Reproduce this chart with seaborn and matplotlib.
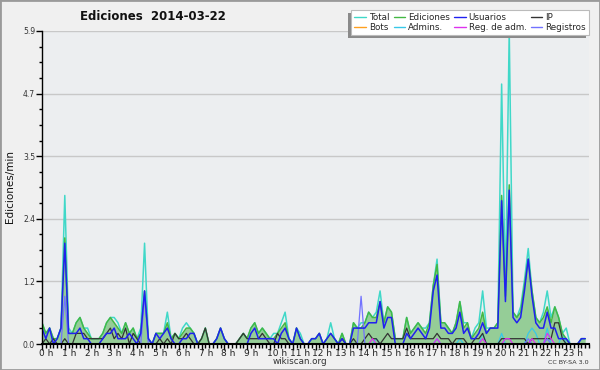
import matplotlib
matplotlib.use("Agg")
import matplotlib.pyplot as plt
import matplotlib.transforms as mtransforms
from matplotlib.patches import Rectangle
from matplotlib.lines import Line2D
from matplotlib.ticker import FixedLocator, MultipleLocator
import seaborn as sns
import pandas as pd

# ---------------- data (edits per minute, 10-minute buckets) ----------------
total = [
    .4, .2, .3, .1, .1, .3, 2.8, .3, .2, .4, .5, .3,
    .3, .1, .1, .1, .2, .4, .5, .5, .4, .2, .4, .2,
    .3, .1, .3, 1.9, .1, 0, .2, .2, .2, .6, .1, .2,
    .1, .3, .4, .3, .2, 0, .1, .3, 0, 0, .1, .3,
    .1, 0, 0, 0, .1, .2, .1, .3, .4, .2, .3, .2,
    .1, .2, .2, .4, .6, .1, 0, .3, .2, 0, 0, .1,
    .1, .2, 0, .1, .4, .1, 0, .2, 0, 0, .4, .3,
    .4, .4, .6, .5, .6, 1.0, .4, .7, .6, .1, .1, .1,
    .5, .2, .3, .4, .3, .3, .4, 1.1, 1.6, .4, .4, .3,
    .2, .4, .8, .4, .4, .1, .3, .4, 1.0, .3, .3, .3,
    .4, 4.9, 1.0, 5.9, .6, .5, .7, 1.2, 1.8, 1.0, .5, .4,
    .6, 1.0, .5, .7, .5, .2, .3, 0, 0, 0, .1, .1,
]
ediciones = [
    .4, .2, .3, .1, .1, .3, 2.0, .2, .2, .4, .5, .3,
    .2, .1, .1, .1, .2, .4, .5, .4, .3, .2, .4, .2,
    .3, .1, .2, 1.0, .1, 0, .2, .2, .2, .4, .1, .2,
    .1, .2, .3, .3, .2, 0, .1, .3, 0, 0, .1, .3,
    .1, 0, 0, 0, .1, .2, .1, .3, .4, .2, .3, .2,
    .1, .1, .2, .3, .4, .1, 0, .3, .1, 0, 0, .1,
    .1, .2, 0, .1, .2, .1, 0, .2, 0, 0, .4, .3,
    .3, .4, .6, .5, .5, .8, .4, .7, .6, .1, .1, .1,
    .5, .2, .3, .4, .3, .2, .4, 1.1, 1.5, .4, .4, .3,
    .2, .4, .8, .3, .4, .1, .2, .3, .6, .2, .3, .3,
    .4, 2.8, .9, 3.0, .6, .5, .6, 1.1, 1.6, 1.0, .5, .4,
    .5, .7, .4, .7, .5, .2, .1, 0, 0, 0, .1, .1,
]
usuarios = [
    .3, .1, .3, 0, .1, .3, 1.9, .2, .2, .2, .3, .1,
    .1, 0, 0, 0, .1, .2, .2, .3, .1, .1, .1, .2,
    .1, 0, .2, 1.0, .1, 0, .2, .1, .2, .3, .1, 0,
    0, .1, .1, .2, .2, 0, 0, 0, 0, 0, .1, .3,
    .1, 0, 0, 0, 0, 0, 0, .2, .3, .1, .1, .1,
    .1, .1, 0, .2, .3, .1, 0, .3, .1, 0, 0, .1,
    .1, .2, 0, .1, .2, .1, 0, .1, 0, 0, .3, .3,
    .3, .3, .4, .4, .4, .8, .3, .5, .5, 0, 0, 0,
    .2, .1, .2, .3, .2, .1, .3, 1.0, 1.3, .3, .3, .2,
    .2, .3, .6, .2, .3, .1, .1, .2, .4, .2, .3, .3,
    .3, 2.7, .8, 2.9, .5, .4, .5, 1.0, 1.6, .9, .4, .3,
    .3, .6, .3, .3, .1, .1, .1, 0, 0, 0, .1, .1,
]
ip = [
    0, .1, 0, .1, 0, 0, .1, 0, 0, .2, .2, .2,
    .1, .1, .1, .1, .1, .2, .3, .1, .2, .1, .3, 0,
    .2, .1, 0, 0, 0, 0, 0, .1, 0, .1, 0, .2,
    .1, .1, .2, .1, 0, 0, .1, .3, 0, 0, 0, 0,
    0, 0, 0, 0, .1, .2, .1, .1, .1, .1, .2, .1,
    0, 0, .2, .1, .1, 0, 0, 0, 0, 0, 0, 0,
    0, 0, 0, 0, 0, 0, 0, .1, 0, 0, .1, 0,
    0, .1, .2, .1, .1, 0, .1, .2, .1, .1, .1, .1,
    .3, .1, .1, .1, .1, .1, .1, .1, .2, .1, .1, .1,
    0, .1, .1, .1, 0, 0, .1, .1, .2, 0, 0, 0,
    0, .1, .1, .1, .1, .1, .1, .1, 0, .1, .1, .1,
    .1, .1, .1, .4, .4, .1, 0, 0, 0, 0, 0, 0,
]
bots = [
    0, 0, 0, 0, 0, 0, 0, 0, 0, 0, 0, 0,
    0, 0, 0, 0, 0, 0, 0, 0, 0, 0, 0, 0,
    0, 0, 0, 0, 0, 0, 0, 0, 0, 0, 0, 0,
    0, 0, 0, 0, 0, 0, 0, 0, 0, 0, 0, 0,
    0, 0, 0, 0, 0, 0, 0, 0, 0, 0, 0, 0,
    0, 0, 0, 0, 0, 0, 0, 0, 0, 0, 0, 0,
    0, 0, 0, 0, 0, 0, 0, 0, 0, 0, 0, 0,
    0, 0, 0, 0, 0, 0, 0, 0, 0, 0, 0, 0,
    0, 0, 0, 0, 0, 0, 0, 0, 0, 0, 0, 0,
    0, 0, 0, 0, 0, 0, 0, 0, 0, 0, 0, 0,
    0, 0, 0, 0, 0, 0, 0, 0, 0, 0, 0, 0,
    0, 0, 0, 0, 0, 0, 0, 0, 0, 0, 0, 0,
]
admins = [
    0, 0, 0, 0, 0, 0, 0, 0, 0, 0, 0, 0,
    0, 0, 0, 0, 0, 0, 0, 0, 0, 0, 0, 0,
    0, 0, 0, 0, 0, 0, 0, 0, 0, 0, 0, 0,
    0, 0, 0, 0, 0, 0, 0, 0, 0, 0, 0, 0,
    0, 0, 0, 0, 0, 0, 0, 0, 0, 0, 0, 0,
    0, 0, 0, 0, 0, 0, 0, 0, 0, 0, 0, 0,
    0, 0, 0, 0, 0, 0, 0, 0, 0, 0, 0, 0,
    0, 0, 0, 0, .1, 0, 0, 0, 0, 0, 0, 0,
    0, 0, 0, 0, 0, 0, 0, 0, .1, 0, 0, 0,
    0, 0, .1, 0, 0, 0, 0, 0, .2, 0, 0, 0,
    0, .2, 0, 0, 0, 0, 0, 0, .2, .3, .2, 0,
    0, .3, 0, 0, 0, .2, 0, 0, 0, 0, 0, 0,
]
reg_adm = [
    0, 0, 0, 0, 0, 0, 0, 0, 0, 0, 0, 0,
    0, 0, 0, 0, 0, 0, 0, 0, 0, 0, 0, 0,
    0, 0, 0, 0, 0, 0, 0, 0, 0, 0, 0, 0,
    0, 0, 0, 0, 0, 0, 0, 0, 0, 0, 0, 0,
    0, 0, 0, 0, 0, 0, 0, 0, 0, 0, 0, 0,
    0, 0, 0, 0, 0, 0, 0, 0, 0, 0, 0, 0,
    0, 0, 0, 0, 0, 0, 0, 0, 0, 0, 0, 0,
    0, 0, 0, .1, 0, 0, 0, 0, 0, 0, 0, 0,
    0, 0, 0, 0, 0, 0, 0, 0, .1, 0, 0, 0,
    0, 0, 0, 0, 0, 0, 0, 0, .1, 0, 0, 0,
    0, 0, .1, .1, 0, 0, 0, 0, 0, .1, 0, 0,
    0, .2, .1, 0, 0, 0, 0, 0, 0, 0, 0, 0,
]
registros = [
    0, 0, 0, 0, 0, 0, .9, 0, 0, 0, 0, 0,
    0, 0, 0, 0, 0, 0, 0, 0, 0, 0, 0, 0,
    0, 0, 0, .9, 0, 0, 0, 0, 0, 0, 0, 0,
    0, 0, 0, 0, 0, 0, 0, 0, 0, 0, 0, 0,
    0, 0, 0, 0, 0, 0, 0, 0, 0, 0, 0, 0,
    0, 0, 0, 0, 0, 0, 0, 0, 0, 0, 0, 0,
    0, 0, 0, 0, 0, 0, 0, 0, 0, 0, 0, 0,
    .9, 0, 0, 0, 0, 0, 0, 0, 0, 0, 0, 0,
    0, 0, 0, 0, 0, 0, 0, 0, 0, 0, 0, 0,
    0, 0, 0, 0, 0, 0, 0, 0, 0, 0, 0, 0,
    0, 0, 0, 0, 0, 0, 0, 0, .1, 0, 0, 0,
    0, .1, 0, 0, 0, 0, 0, 0, 0, 0, 0, 0,
]
hour_labels = [f"{h} h" for h in range(24)]
y_max = 5.9

# ---------------- build frame ----------------
df = pd.DataFrame({
    "hour": [i / 6 for i in range(len(total))],
    "Total": total, "Ediciones": ediciones, "Usuarios": usuarios, "IP": ip,
    "Bots": bots, "Admins.": admins, "Reg. de adm.": reg_adm, "Registros": registros,
})

sns.set_theme(style="white")
plt.rcParams['font.family'] = ['DejaVu Sans']

W, H = 600, 370
fig = plt.figure(figsize=(6, 3.7), dpi=100, facecolor="#f0f0f0")
ax = fig.add_axes([42 / W, 26 / H, 547 / W, 313 / H])
ax.set_facecolor("#eceef0")

colors = {
    "Total": "#40d8c8", "Ediciones": "#44b844", "Usuarios": "#2020f0",
    "IP": "#333333", "Bots": "#ffa020", "Admins.": "#38c8e8",
    "Reg. de adm.": "#dd33ee", "Registros": "#7272ff",
}
widths = {
    "Total": 1.1, "Ediciones": 1.1, "Usuarios": 1.1, "IP": 0.9, "Bots": 0.9,
    "Admins.": 0.9, "Reg. de adm.": 0.9, "Registros": 0.9,
}

ax.fill_between(df["hour"], 0, df["Ediciones"], color="#5cb85c", alpha=0.6,
                lw=0, zorder=1)
order_draw = ["Bots", "Total", "Admins.", "Ediciones", "IP", "Registros",
              "Usuarios", "Reg. de adm."]
for k, name in enumerate(order_draw):
    sns.lineplot(data=df, x="hour", y=name, ax=ax, color=colors[name],
                 lw=widths[name], zorder=2 + k * 0.01, legend=False)

# axes
ax.set_xlim(0, 24)
ax.set_ylim(0, y_max)
ax.set_xlabel("")
ax.set_ylabel("")
ax.xaxis.set_major_locator(FixedLocator(range(24)))
ax.set_xticklabels(hour_labels)
ax.xaxis.set_minor_locator(MultipleLocator(1 / 6))
yt = [y_max * k / 5 for k in range(6)]
ax.yaxis.set_major_locator(FixedLocator(yt))
ax.set_yticklabels([f"{v:.1f}" for v in yt])
ax.yaxis.set_minor_locator(MultipleLocator(y_max / 20))

ax.tick_params(axis='x', which='major', length=4, width=1, color='black',
               labelsize=6.5, pad=-0.5, labelcolor="#222222", bottom=True)
ax.tick_params(axis='x', which='minor', length=3, width=1, color='black', bottom=True)
ax.tick_params(axis='y', which='major', length=4, width=1, color='black',
               labelsize=5.5, pad=1, labelcolor="#333333", left=True)
ax.tick_params(axis='y', which='minor', length=2, width=1, color='black', left=True)
offset = mtransforms.ScaledTranslation(-3 / 100, 0, fig.dpi_scale_trans)
for lab in ax.get_xticklabels():
    lab.set_ha('left')
    lab.set_transform(lab.get_transform() + offset)

ax.yaxis.grid(True, color="#c8c8c8", lw=1)
ax.xaxis.grid(False)
ax.set_axisbelow(True)
for s in ["top", "right"]:
    ax.spines[s].set_visible(False)
ax.spines["left"].set_color("black")
ax.spines["left"].set_linewidth(1)
ax.spines["bottom"].set_color("black")
ax.spines["bottom"].set_linewidth(1.5)

# texts
fig.text(153 / W, 1 - 16 / H, "Ediciones  2014-03-22", ha='center', va='center',
         fontsize=8.5, fontweight='bold', color="#111111")
fig.text(10 / W, 1 - 187 / H, "Ediciones/min", rotation=90, ha='center',
         va='center', fontsize=7.5, color="#111111")
fig.text(300 / W, 1 - 362 / H, "wikiscan.org", ha='center', va='center',
         fontsize=6.3, color="#333333")
fig.text(589 / W, 1 - 363 / H, "CC BY-SA 3.0", ha='right', va='center',
         fontsize=4.6, color="#333333")

# legend (column-major order for 2 rows x 4 cols)
leg_order = ["Total", "Bots", "Ediciones", "Admins.", "Usuarios", "Reg. de adm.",
             "IP", "Registros"]
handles = [Line2D([0], [0], color=colors[n], lw=1) for n in leg_order]
leg = fig.legend(handles, leg_order, ncol=4, loc='upper right',
                 bbox_to_anchor=(589 / W, 1 - 10 / H), borderaxespad=0,
                 fontsize=6.3, frameon=True, fancybox=False, framealpha=1,
                 edgecolor="#bbbbbb", facecolor="white", handlelength=1.3,
                 handletextpad=0.35, columnspacing=0.5, labelspacing=0.15,
                 borderpad=0.35)
leg.set_zorder(6)
leg.get_frame().set_linewidth(0.8)

fig.canvas.draw()
bb = leg.get_frame().get_window_extent()
shadow = Rectangle(((bb.x0 - 3) / W, (bb.y0 - 3) / H), bb.width / W, bb.height / H,
                   transform=fig.transFigure, facecolor="#8a8a8a", edgecolor='none',
                   zorder=5)
fig.patches.append(shadow)

border = Rectangle((0, 0), 1, 1, transform=fig.transFigure, fill=False,
                   edgecolor="#9a9a9a", lw=2, zorder=10)
fig.patches.append(border)

fig.savefig("out.png", dpi=100, facecolor=fig.get_facecolor())
